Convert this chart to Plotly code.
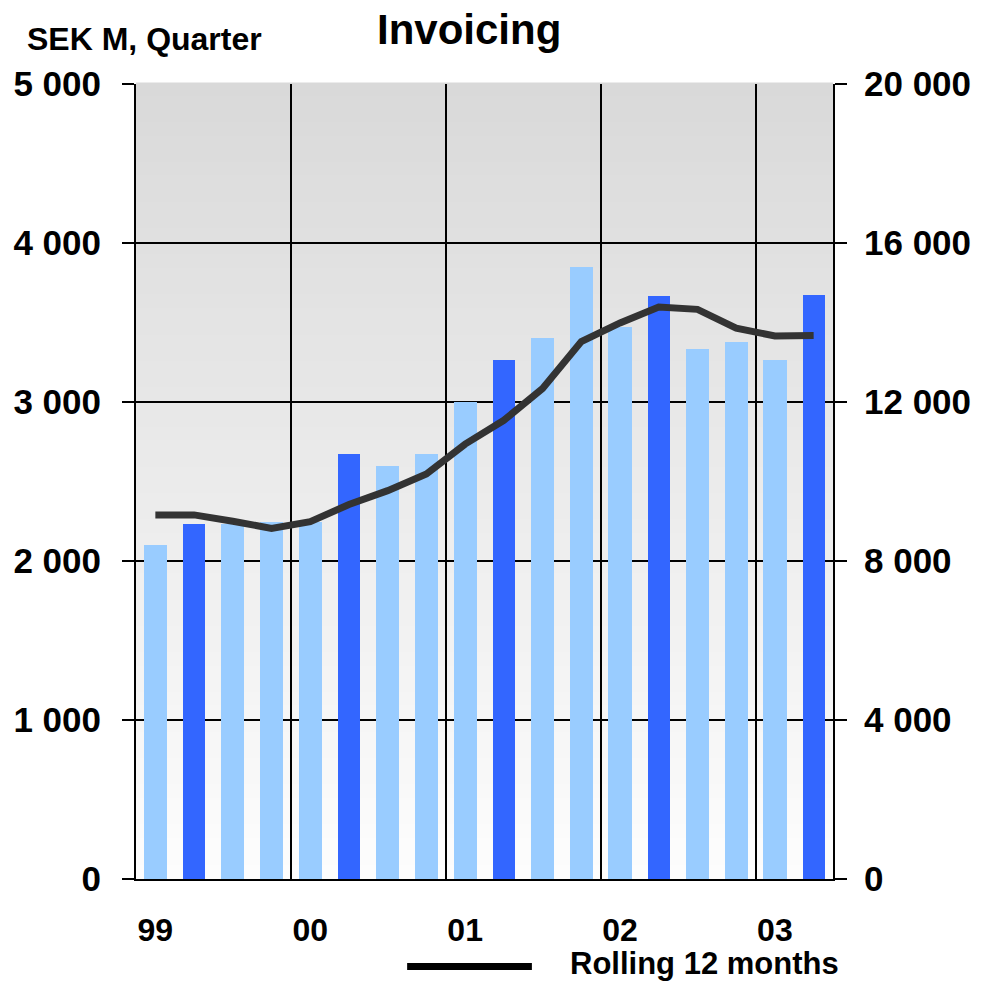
import plotly.graph_objects as go

# Quarterly invoicing, SEK M (left axis) and rolling 12-month sum (right axis)
periods = ["99 Q1", "99 Q2", "99 Q3", "99 Q4",
           "00 Q1", "00 Q2", "00 Q3", "00 Q4",
           "01 Q1", "01 Q2", "01 Q3", "01 Q4",
           "02 Q1", "02 Q2", "02 Q3", "02 Q4",
           "03 Q1", "03 Q2"]
invoicing = [2100, 2230, 2230, 2245,
             2245, 2670, 2595, 2670,
             3000, 3265, 3400, 3850,
             3470, 3665, 3335, 3380,
             3265, 3675]
rolling_12m = [9160, 9160, 9000, 8820,
               8990, 9420, 9770, 10190,
               10940, 11540, 12340, 13520,
               13990, 14390, 14330, 13860,
               13660, 13670]
year_labels = ["99", "00", "01", "02", "03"]
left_ticks = [0, 1000, 2000, 3000, 4000, 5000]
right_ticks = [0, 4000, 8000, 12000, 16000, 20000]

LIGHT = "#99CCFF"
DARK = "#3366FF"
FONT = "Liberation Sans, Arial, sans-serif"

x = list(range(len(periods)))
is_q2 = [p.endswith("Q2") for p in periods]
bar_colors = [DARK if q else LIGHT for q in is_q2]
bar_widths = [0.57 if q else 0.6 for q in is_q2]


def fmt(v):
    return f"{v:,}".replace(",", " ")


fig = go.Figure()
fig.add_trace(go.Bar(
    x=x, y=invoicing, customdata=periods,
    marker=dict(color=bar_colors, line=dict(width=0)),
    width=bar_widths, name="Invoicing", showlegend=False,
    hovertemplate="%{customdata}: %{y}<extra></extra>",
))
fig.add_trace(go.Scatter(
    x=x, y=rolling_12m, yaxis="y2", mode="lines",
    line=dict(color="#333333", width=7),
    name="Rolling 12 months", showlegend=False,
))

# Vertical gradient background (grey at top fading to near white)
n_bands = 60
top_c, bot_c = 217, 253
for i in range(n_bands):
    y0 = 1 - (i + 1) / n_bands
    y1 = 1 - i / n_bands
    c = round(top_c + (bot_c - top_c) * (i + 0.5) / n_bands)
    fig.add_shape(type="rect", xref="paper", yref="paper",
                  x0=0, x1=1, y0=y0, y1=y1 + 0.002,
                  fillcolor=f"rgb({c},{c},{c})", line=dict(width=0),
                  layer="below")

# Legend sample line and label
fig.add_shape(type="line", xref="paper", yref="paper",
              x0=0.389, x1=0.568, y0=-0.110, y1=-0.110,
              line=dict(color="#000000", width=7))
fig.add_annotation(xref="paper", yref="paper", x=0.620, y=-0.106,
                   xanchor="left", yanchor="middle", showarrow=False,
                   text="<b>Rolling 12 months</b>",
                   font=dict(family=FONT, size=31, color="#000000"))

fig.add_annotation(xref="paper", yref="paper", x=0.478, y=1.068,
                   xanchor="center", yanchor="middle", showarrow=False,
                   text="<b>Invoicing</b>",
                   font=dict(family=FONT, size=42, color="#000000"))
fig.add_annotation(xref="paper", yref="paper", x=-0.159, y=1.056,
                   xanchor="left", yanchor="middle", showarrow=False,
                   text="<b>SEK M, Quarter</b>",
                   font=dict(family=FONT, size=32, color="#000000"))

fig.update_layout(
    width=983, height=982,
    margin=dict(l=136, r=147, t=84, b=103),
    paper_bgcolor="#ffffff", plot_bgcolor="rgba(0,0,0,0)",
    bargap=0, barmode="overlay",
    font=dict(family=FONT, color="#000000"),
    xaxis=dict(
        range=[-0.5, len(periods) - 0.5],
        tickmode="array", tickvals=[0, 4, 8, 12, 16],
        ticktext=[f"<b>{t}</b>" for t in year_labels],
        tickfont=dict(size=32, family=FONT),
        ticks="", showgrid=False, zeroline=False,
        showline=True, linecolor="#000000", linewidth=2,
        ticklabelstandoff=22,
        minor=dict(showgrid=True, gridcolor="#000000", gridwidth=2,
                   tick0=3.5, dtick=4, ticks=""),
    ),
    yaxis=dict(
        range=[0, 5000], tickmode="array", tickvals=left_ticks,
        ticktext=[f"<b>{fmt(v)}</b>" for v in left_ticks],
        tickfont=dict(size=35, family=FONT),
        ticks="outside", ticklen=12, tickwidth=2, tickcolor="#000000",
        showgrid=True, gridcolor="#000000", gridwidth=2,
        zeroline=False, showline=True, linecolor="#000000", linewidth=2,
        ticklabelstandoff=14,
    ),
    yaxis2=dict(
        range=[0, 20000], overlaying="y", side="right",
        tickmode="array", tickvals=right_ticks,
        ticktext=[f"<b>{fmt(v)}</b>" for v in right_ticks],
        tickfont=dict(size=35, family=FONT),
        ticks="outside", ticklen=12, tickwidth=2, tickcolor="#000000",
        showgrid=False, zeroline=False,
        showline=True, linecolor="#000000", linewidth=2,
        ticklabelstandoff=10,
    ),
)

fig.write_html("out.html")
